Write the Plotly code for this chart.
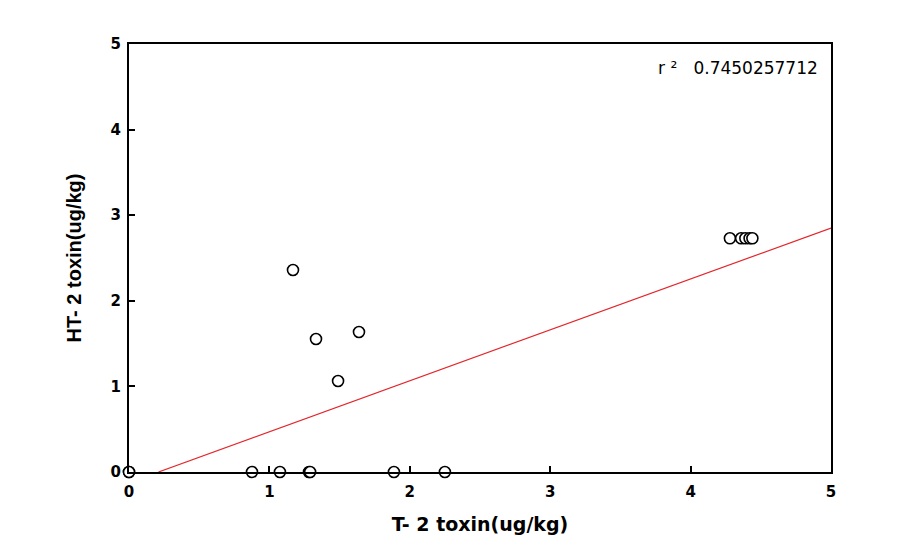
import plotly.graph_objects as go

t2_toxin = [0.0, 0.0, 0.876, 1.075, 1.282, 1.29, 1.887, 2.25,
            1.168, 1.332, 1.638, 1.489,
            4.28, 4.36, 4.39, 4.42, 4.44]
ht2_toxin = [0.0, 0.0, 0.0, 0.0, 0.0, 0.0, 0.0, 0.0,
             2.36, 1.554, 1.636, 1.063,
             2.73, 2.73, 2.73, 2.73, 2.73]

fit_x = [0.21, 5.0]
fit_y = [0.0, 2.85]

x_ticks = [0, 1, 2, 3, 4, 5]
y_ticks = [0, 1, 2, 3, 4, 5]

wide_font = "DejaVu Sans"
narrow_font = "Liberation Sans, Arial, sans-serif"

fig = go.Figure()
fig.add_trace(go.Scatter(x=fit_x, y=fit_y, mode="lines",
                         line=dict(color="#e3262b", width=1.2),
                         showlegend=False, hoverinfo="skip"))
fig.add_trace(go.Scatter(x=t2_toxin, y=ht2_toxin, mode="markers",
                         marker=dict(symbol="circle", size=11, color="white",
                                     line=dict(color="black", width=1.6)),
                         cliponaxis=False, showlegend=False))

axis_common = dict(showline=True, linecolor="black", linewidth=2, mirror=True,
                   ticks="inside", ticklen=6, tickwidth=1.5, tickcolor="black",
                   showgrid=False, zeroline=False,
                   tickfont=dict(family=wide_font, size=15, color="black", weight="bold"))

fig.update_layout(
    width=912, height=553,
    margin=dict(l=129, r=81, t=44, b=81),
    paper_bgcolor="white", plot_bgcolor="white",
    xaxis=dict(range=[0, 5], tickvals=x_ticks, ticklabelstandoff=5, **axis_common,
               title=dict(text="T- 2 toxin(ug/kg)", standoff=18,
                          font=dict(family=wide_font, size=19, color="black", weight="bold"))),
    yaxis=dict(range=[0, 5], tickvals=y_ticks, ticklabelstandoff=3, **axis_common,
               title=dict(text="HT- 2 toxin(ug/kg)", standoff=24,
                          font=dict(family=narrow_font, size=20, color="black", weight="bold"))),
    annotations=[dict(x=0.984, y=0.945, xref="paper", yref="paper", xanchor="right",
                      yanchor="middle", showarrow=False,
                      text="r ²   0.7450257712",
                      font=dict(family=wide_font, size=17, color="black"))],
)

fig.write_html("out.html")
